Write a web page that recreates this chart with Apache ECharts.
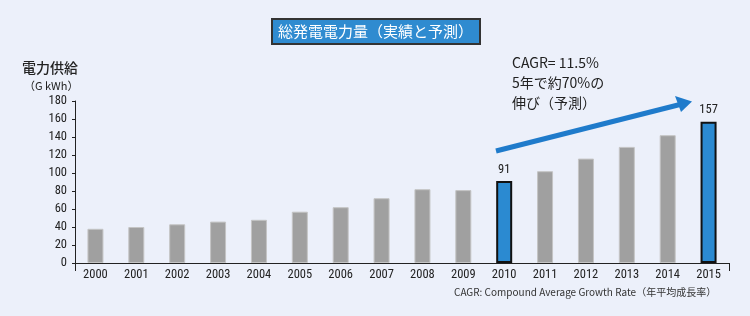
<!DOCTYPE html>
<html>
<head>
<meta charset="utf-8">
<script src="https://cdn.jsdelivr.net/npm/echarts@6/dist/echarts.min.js"></script>
<style>
html,body{margin:0;padding:0;background:#ECF0FA;}
#c{width:750px;height:316px;}
</style>
</head>
<body>
<div id="c"></div>
<script>
var years = ['2000','2001','2002','2003','2004','2005','2006','2007','2008','2009','2010','2011','2012','2013','2014','2015'];
var supply = [38, 40, 43, 46, 48, 57, 62, 72, 82, 81, 91, 102, 116, 129, 142, 157];
var highlightYears = ['2010', '2015'];
var yTicks = [0, 20, 40, 60, 80, 100, 120, 140, 160, 180];

var numFont = '"Liberation Sans Narrow", "Roboto Condensed", "DejaVu Sans Condensed", sans-serif';
var jpFont = '"Noto Sans CJK JP", sans-serif';

var barData = supply.map(function (v, i) {
  var hl = highlightYears.indexOf(years[i]) >= 0;
  return hl ? {
    value: v,
    itemStyle: { color: '#2B8AD1', borderColor: '#111', borderWidth: 2 },
    label: { show: true, position: 'top', distance: 5, color: '#222', fontSize: 12.5, fontFamily: numFont }
  } : {
    value: v,
    itemStyle: { color: '#A0A0A0', borderColor: '#C4C4C4', borderWidth: 1 }
  };
});

var chart = echarts.init(document.getElementById('c'));
chart.setOption({
  backgroundColor: '#ECF0FA',
  animation: false,
  title: {
    text: '総発電電力量（実績と予測）',
    left: 272,
    top: 19,
    backgroundColor: '#2F8BD0',
    borderColor: '#333',
    borderWidth: 2,
    padding: [3, 7, 3, 6],
    textStyle: { color: '#fff', fontSize: 15, fontWeight: 'normal', fontFamily: jpFont, lineHeight: 19 }
  },
  grid: { left: 75, right: 21, top: 101, bottom: 53, containLabel: false },
  xAxis: {
    type: 'category',
    data: years,
    axisLine: { show: true, lineStyle: { color: '#222', width: 1 } },
    axisTick: { show: true, length: 8, interval: function (i) { return i === 0; }, lineStyle: { color: '#222' } },
    axisLabel: { color: '#222', fontSize: 12.5, fontFamily: numFont, margin: 5 }
  },
  yAxis: {
    type: 'value',
    min: 0,
    max: 180,
    interval: 20,
    axisLine: { show: true, lineStyle: { color: '#222', width: 1 } },
    axisTick: { show: true, length: 3, lineStyle: { color: '#222' } },
    axisLabel: { color: '#222', fontSize: 12.5, fontFamily: numFont, margin: 8,
      formatter: function (v) { return yTicks.indexOf(v) >= 0 ? String(v) : ''; } },
    splitLine: { show: false }
  },
  series: [{
    type: 'bar',
    data: barData,
    barWidth: 16,
    label: { show: false }
  }],
  graphic: [
    { type: 'text', left: 22, top: 61, style: { text: '電力供給', fill: '#222', font: '500 14px ' + jpFont } },
    { type: 'text', left: 24, top: 80, style: { text: '（G kWh）', fill: '#222', font: '11px ' + jpFont } },
    { type: 'text', left: 512, top: 56, style: { text: 'CAGR= 11.5%', fill: '#222', font: '14px ' + jpFont } },
    { type: 'text', left: 512, top: 76, style: { text: '5年で約70%の', fill: '#222', font: '14px ' + jpFont } },
    { type: 'text', left: 512, top: 96, style: { text: '伸び（予測）', fill: '#222', font: '14px ' + jpFont } },
    { type: 'line', shape: { x1: 496, y1: 151, x2: 680, y2: 104.5 }, style: { stroke: '#1F7BCB', lineWidth: 5 } },
    { type: 'polygon', shape: { points: [[692, 101.5], [675, 96], [681, 112]] }, style: { fill: '#1F7BCB' } },
    { type: 'text', left: 454, top: 287, style: { text: 'CAGR: Compound Average Growth Rate（年平均成長率）', fill: '#333', font: '10px ' + jpFont } }
  ]
});
</script>
</body>
</html>
